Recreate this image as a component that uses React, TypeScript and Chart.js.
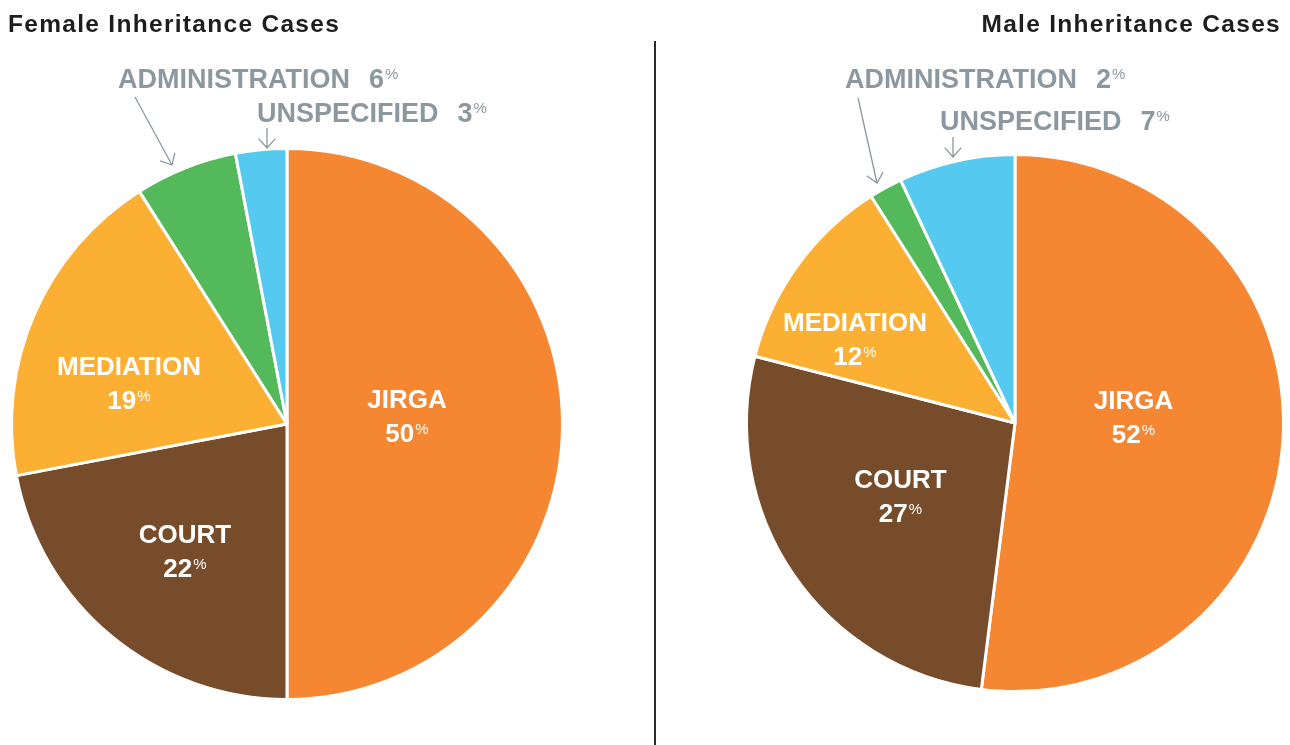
import React, { useEffect, useRef } from "react";
import { Chart, registerables } from "chart.js";

Chart.register(...registerables);

const categories = ["JIRGA", "COURT", "MEDIATION", "ADMINISTRATION", "UNSPECIFIED"];
const femaleValues = [50, 22, 19, 6, 3];
const maleValues = [52, 27, 12, 2, 7];
const sliceColors = ["#F58632", "#774C2A", "#FBB033", "#53B95B", "#55C9EF"];
const femaleTitle = "Female Inheritance Cases";
const maleTitle = "Male Inheritance Cases";

const FONT = "'Liberation Sans', Arial, sans-serif";
const GREY = "#8C989F";
const W = 1290;
const H = 745;

type OutLabel = { idx: number; tx: number; ty: number; tail: [number, number]; tip: [number, number] };
type PieCfg = {
  key: string;
  title: string;
  titleX: number;
  titleAlign: CanvasTextAlign;
  divider: boolean;
  values: number[];
  padding: { left: number; top: number; right: number; bottom: number };
  inside: ([number, number] | null)[];
  outside: OutLabel[];
};

function drawPct(
  ctx: CanvasRenderingContext2D,
  x: number,
  baseline: number,
  value: number,
  bigPx: number,
  smallPx: number,
  align: "center" | "left"
) {
  const n = String(value);
  ctx.font = `bold ${bigPx}px ${FONT}`;
  const w1 = ctx.measureText(n).width;
  ctx.font = `${smallPx}px ${FONT}`;
  const w2 = ctx.measureText("%").width;
  const total = w1 + 1 + w2;
  const x0 = align === "center" ? x - total / 2 : x;
  ctx.textAlign = "left";
  ctx.font = `bold ${bigPx}px ${FONT}`;
  ctx.fillText(n, x0, baseline);
  ctx.font = `${smallPx}px ${FONT}`;
  ctx.fillText("%", x0 + w1 + 1, baseline - bigPx * 0.716 + smallPx * 0.716);
}

function drawArrow(ctx: CanvasRenderingContext2D, x1: number, y1: number, x2: number, y2: number) {
  ctx.beginPath();
  ctx.moveTo(x1, y1);
  ctx.lineTo(x2, y2);
  const a = Math.atan2(y2 - y1, x2 - x1);
  const len = 12.5;
  const spread = 0.73;
  ctx.moveTo(x2 - len * Math.cos(a - spread), y2 - len * Math.sin(a - spread));
  ctx.lineTo(x2, y2);
  ctx.lineTo(x2 - len * Math.cos(a + spread), y2 - len * Math.sin(a + spread));
  ctx.stroke();
}

function makePlugin(cfg: PieCfg) {
  return {
    id: "pieLabels_" + cfg.key,
    afterDraw(chart: any) {
      const ctx: CanvasRenderingContext2D = chart.ctx;
      const arcs = chart.getDatasetMeta(0).data as any[];
      ctx.save();
      // title
      ctx.fillStyle = "#1e1e1e";
      ctx.font = `bold 24.5px ${FONT}`;
      (ctx as any).letterSpacing = "1.3px";
      ctx.textAlign = cfg.titleAlign;
      ctx.textBaseline = "alphabetic";
      ctx.fillText(cfg.title, cfg.titleX, 32);
      (ctx as any).letterSpacing = "0px";
      if (cfg.divider) {
        ctx.fillStyle = "#2b2b2b";
        ctx.fillRect(654, 41, 2, H - 41);
      }
      // inside labels
      ctx.fillStyle = "#ffffff";
      arcs.forEach((arc, i) => {
        const off = cfg.inside[i];
        if (off == null) return;
        const p = arc.getProps(["x", "y"], true);
        const x = p.x + off[0];
        const y = p.y + off[1];
        ctx.textAlign = "center";
        ctx.font = `bold 26px ${FONT}`;
        ctx.fillText(categories[i], x, y - 7.7);
        drawPct(ctx, x, y + 26.3, cfg.values[i], 26, 15, "center");
      });
      // outside labels
      const c = arcs[0].getProps(["x", "y"], true);
      ctx.strokeStyle = GREY;
      ctx.lineWidth = 1.3;
      cfg.outside.forEach((o) => {
        ctx.fillStyle = GREY;
        ctx.textAlign = "left";
        ctx.font = `bold 27px ${FONT}`;
        const tx = c.x + o.tx;
        const ty = c.y + o.ty;
        ctx.fillText(categories[o.idx], tx, ty);
        const w = ctx.measureText(categories[o.idx]).width;
        drawPct(ctx, tx + w + 19, ty, cfg.values[o.idx], 27, 15, "left");
        drawArrow(ctx, c.x + o.tail[0], c.y + o.tail[1], c.x + o.tip[0], c.y + o.tip[1]);
      });
      ctx.restore();
    },
  };
}

const femaleCfg: PieCfg = {
  key: "female",
  title: femaleTitle,
  titleX: 8,
  titleAlign: "left",
  divider: true,
  values: femaleValues,
  padding: { left: 10, top: 147, right: W - 564, bottom: H - 701 },
  inside: [[120, -8], [-102, 126.5], [-158, -41], null, null],
  outside: [
    { idx: 3, tx: -169, ty: -336, tail: [-152, -327], tip: [-115, -259] },
    { idx: 4, tx: -30, ty: -302, tail: [-20, -296], tip: [-20, -276] },
  ],
};

const maleCfg: PieCfg = {
  key: "male",
  title: maleTitle,
  titleX: 1281,
  titleAlign: "right",
  divider: false,
  values: maleValues,
  padding: { left: 745, top: 153, right: W - 1285, bottom: H - 693 },
  inside: [[118.5, -6], [-114.5, 73], [-160, -84], null, null],
  outside: [
    { idx: 3, tx: -170, ty: -335, tail: [-157, -325], tip: [-138, -240] },
    { idx: 4, tx: -75, ty: -293, tail: [-62, -286], tip: [-62, -266] },
  ],
};

function PieCanvas({ cfg }: { cfg: PieCfg }) {
  const ref = useRef<HTMLCanvasElement | null>(null);
  useEffect(() => {
    if (!ref.current) return;
    const chart = new Chart(ref.current, {
      type: "pie",
      data: {
        labels: categories,
        datasets: [
          {
            data: cfg.values,
            backgroundColor: sliceColors,
            borderColor: "#ffffff",
            borderWidth: 3,
          },
        ],
      },
      options: {
        responsive: false,
        maintainAspectRatio: false,
        animation: false,
        events: [],
        layout: { padding: cfg.padding },
        plugins: { legend: { display: false }, tooltip: { enabled: false } },
      },
      plugins: [makePlugin(cfg)],
    });
    return () => chart.destroy();
  }, [cfg]);
  return (
    <canvas
      ref={ref}
      width={W}
      height={H}
      style={{ position: "absolute", left: 0, top: 0, width: W, height: H, display: "block" }}
    />
  );
}

export default function App() {
  return (
    <div style={{ position: "fixed", left: 0, top: 0, width: W, height: H, background: "#ffffff" }}>
      <PieCanvas cfg={femaleCfg} />
      <PieCanvas cfg={maleCfg} />
    </div>
  );
}
